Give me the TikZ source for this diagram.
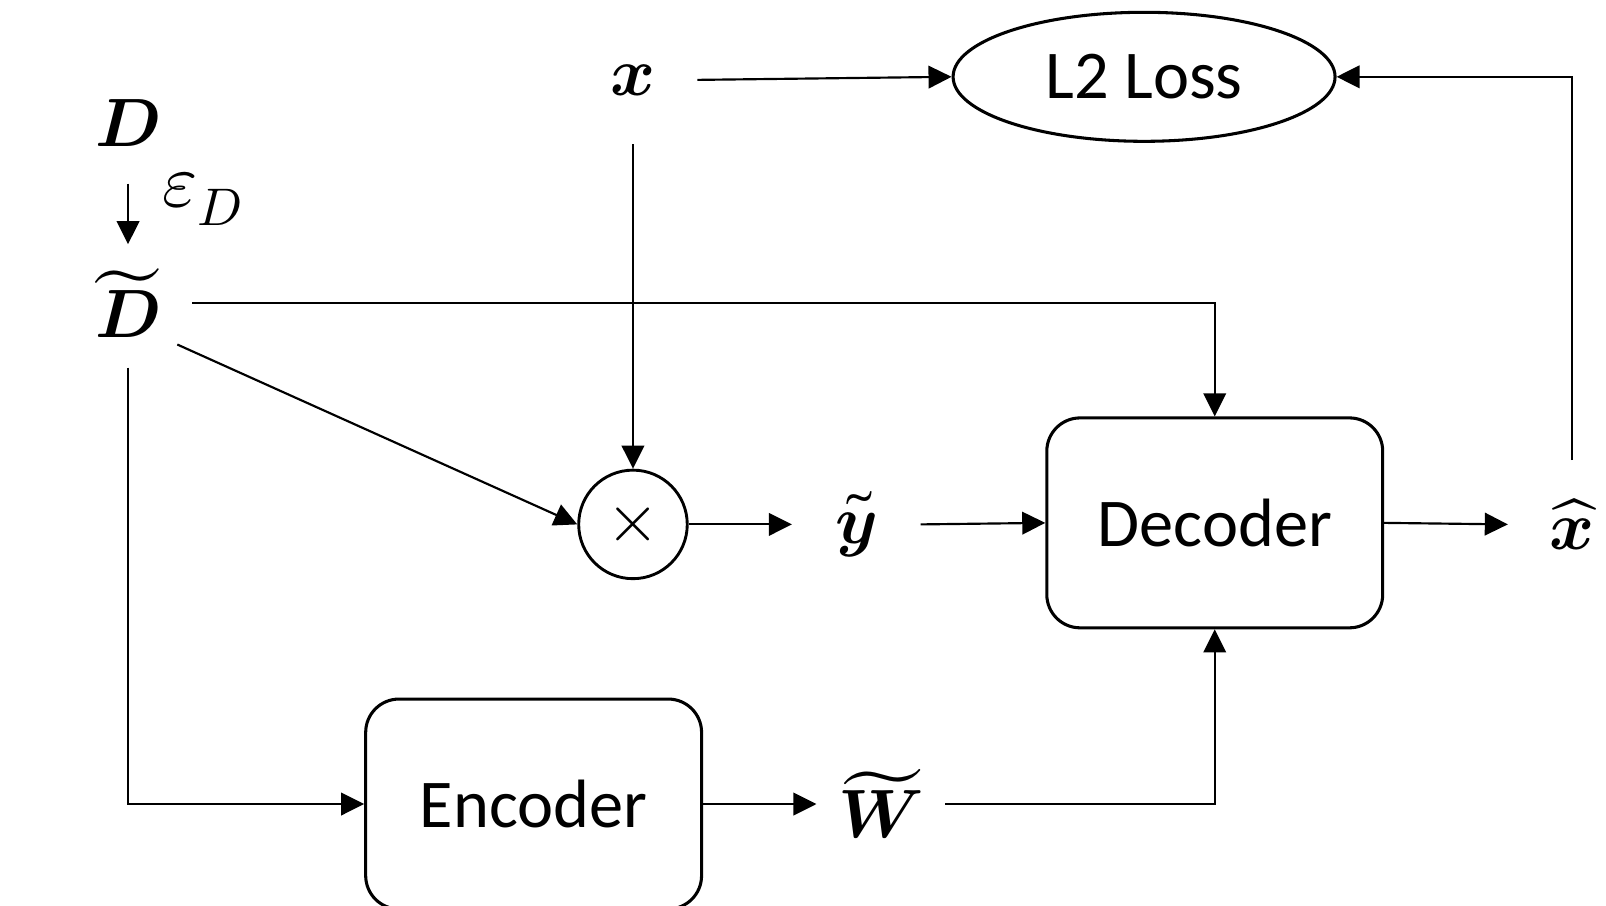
\documentclass[tikz,border=0pt]{standalone}
\usepackage{amsmath}
\usepackage{fontspec}
\usepackage{unicode-math}
\setmainfont{Carlito}
\setmathfont{Latin Modern Math}
\usetikzlibrary{arrows.meta,shapes,positioning}

\begin{document}
\begin{tikzpicture}[x=0.02cm, y=-0.02cm,
    font=\fontsize{38}{44}\selectfont,
    var/.style={circle, minimum size=2.5cm, inner sep=0pt},
    block/.style={draw, line width=1.7pt, rounded corners=0.65cm, minimum width=6.56cm, minimum height=4.1cm},
    conn/.style={line width=1.2pt, -{Triangle[length=0.45cm, width=0.44cm]}}]
  \useasboundingbox (0,0) rectangle (1568,884);

  % variables
  \node[var] (D) at (125,120) {$\symbfit{D}$};
  \node[var] (Dt) at (125,296) {$\widetilde{\symbfit{D}}$};
  \node[font=\fontsize{42}{46}\selectfont] (eps) at (198,194) {$\varepsilon_D$};
  \node[var] (x) at (618,78) {$\symbfit{x}$};
  \node[var] (yt) at (836,512) {$\widetilde{\symbfit{y}}$};
  \node[var] (xh) at (1535,512) {$\widehat{\symbfit{x}}$};
  \node[var] (Wt) at (860,785) {$\widetilde{\symbfit{W}}$};

  % blocks
  \node[draw, ellipse, line width=1.7pt, minimum width=7.46cm, minimum height=2.52cm] (loss) at (1117,75) {L2 Loss};
  \node[draw, circle, line width=1.6pt, minimum size=2.12cm, inner sep=0pt] (mul) at (618,512) {$\times$};
  \node[block] (dec) at (1186,510.5) {Decoder};
  \node[block] (enc) at (521,785) {Encoder};

  % connectors
  \draw[conn, shorten <=-2pt, shorten >=-3pt] (D.south) -- (Dt.north);
  \draw[conn] (x.east) -- (loss.west);
  \draw[conn] (xh.north) |- (loss.east);
  \draw[conn] (x.south) -- (mul.north);
  \draw[conn] (Dt.-40) -- (mul.west);
  \draw[conn] (Dt.east) -| (dec.north);
  \draw[conn] (mul.east) -- (yt.west);
  \draw[conn] (yt.east) -- (dec.west);
  \draw[conn] (dec.east) -- (xh.west);
  \draw[conn] (Dt.south) |- (enc.west);
  \draw[conn] (enc.east) -- (Wt.west);
  \draw[conn] (Wt.east) -| (dec.south);
\end{tikzpicture}
\end{document}
